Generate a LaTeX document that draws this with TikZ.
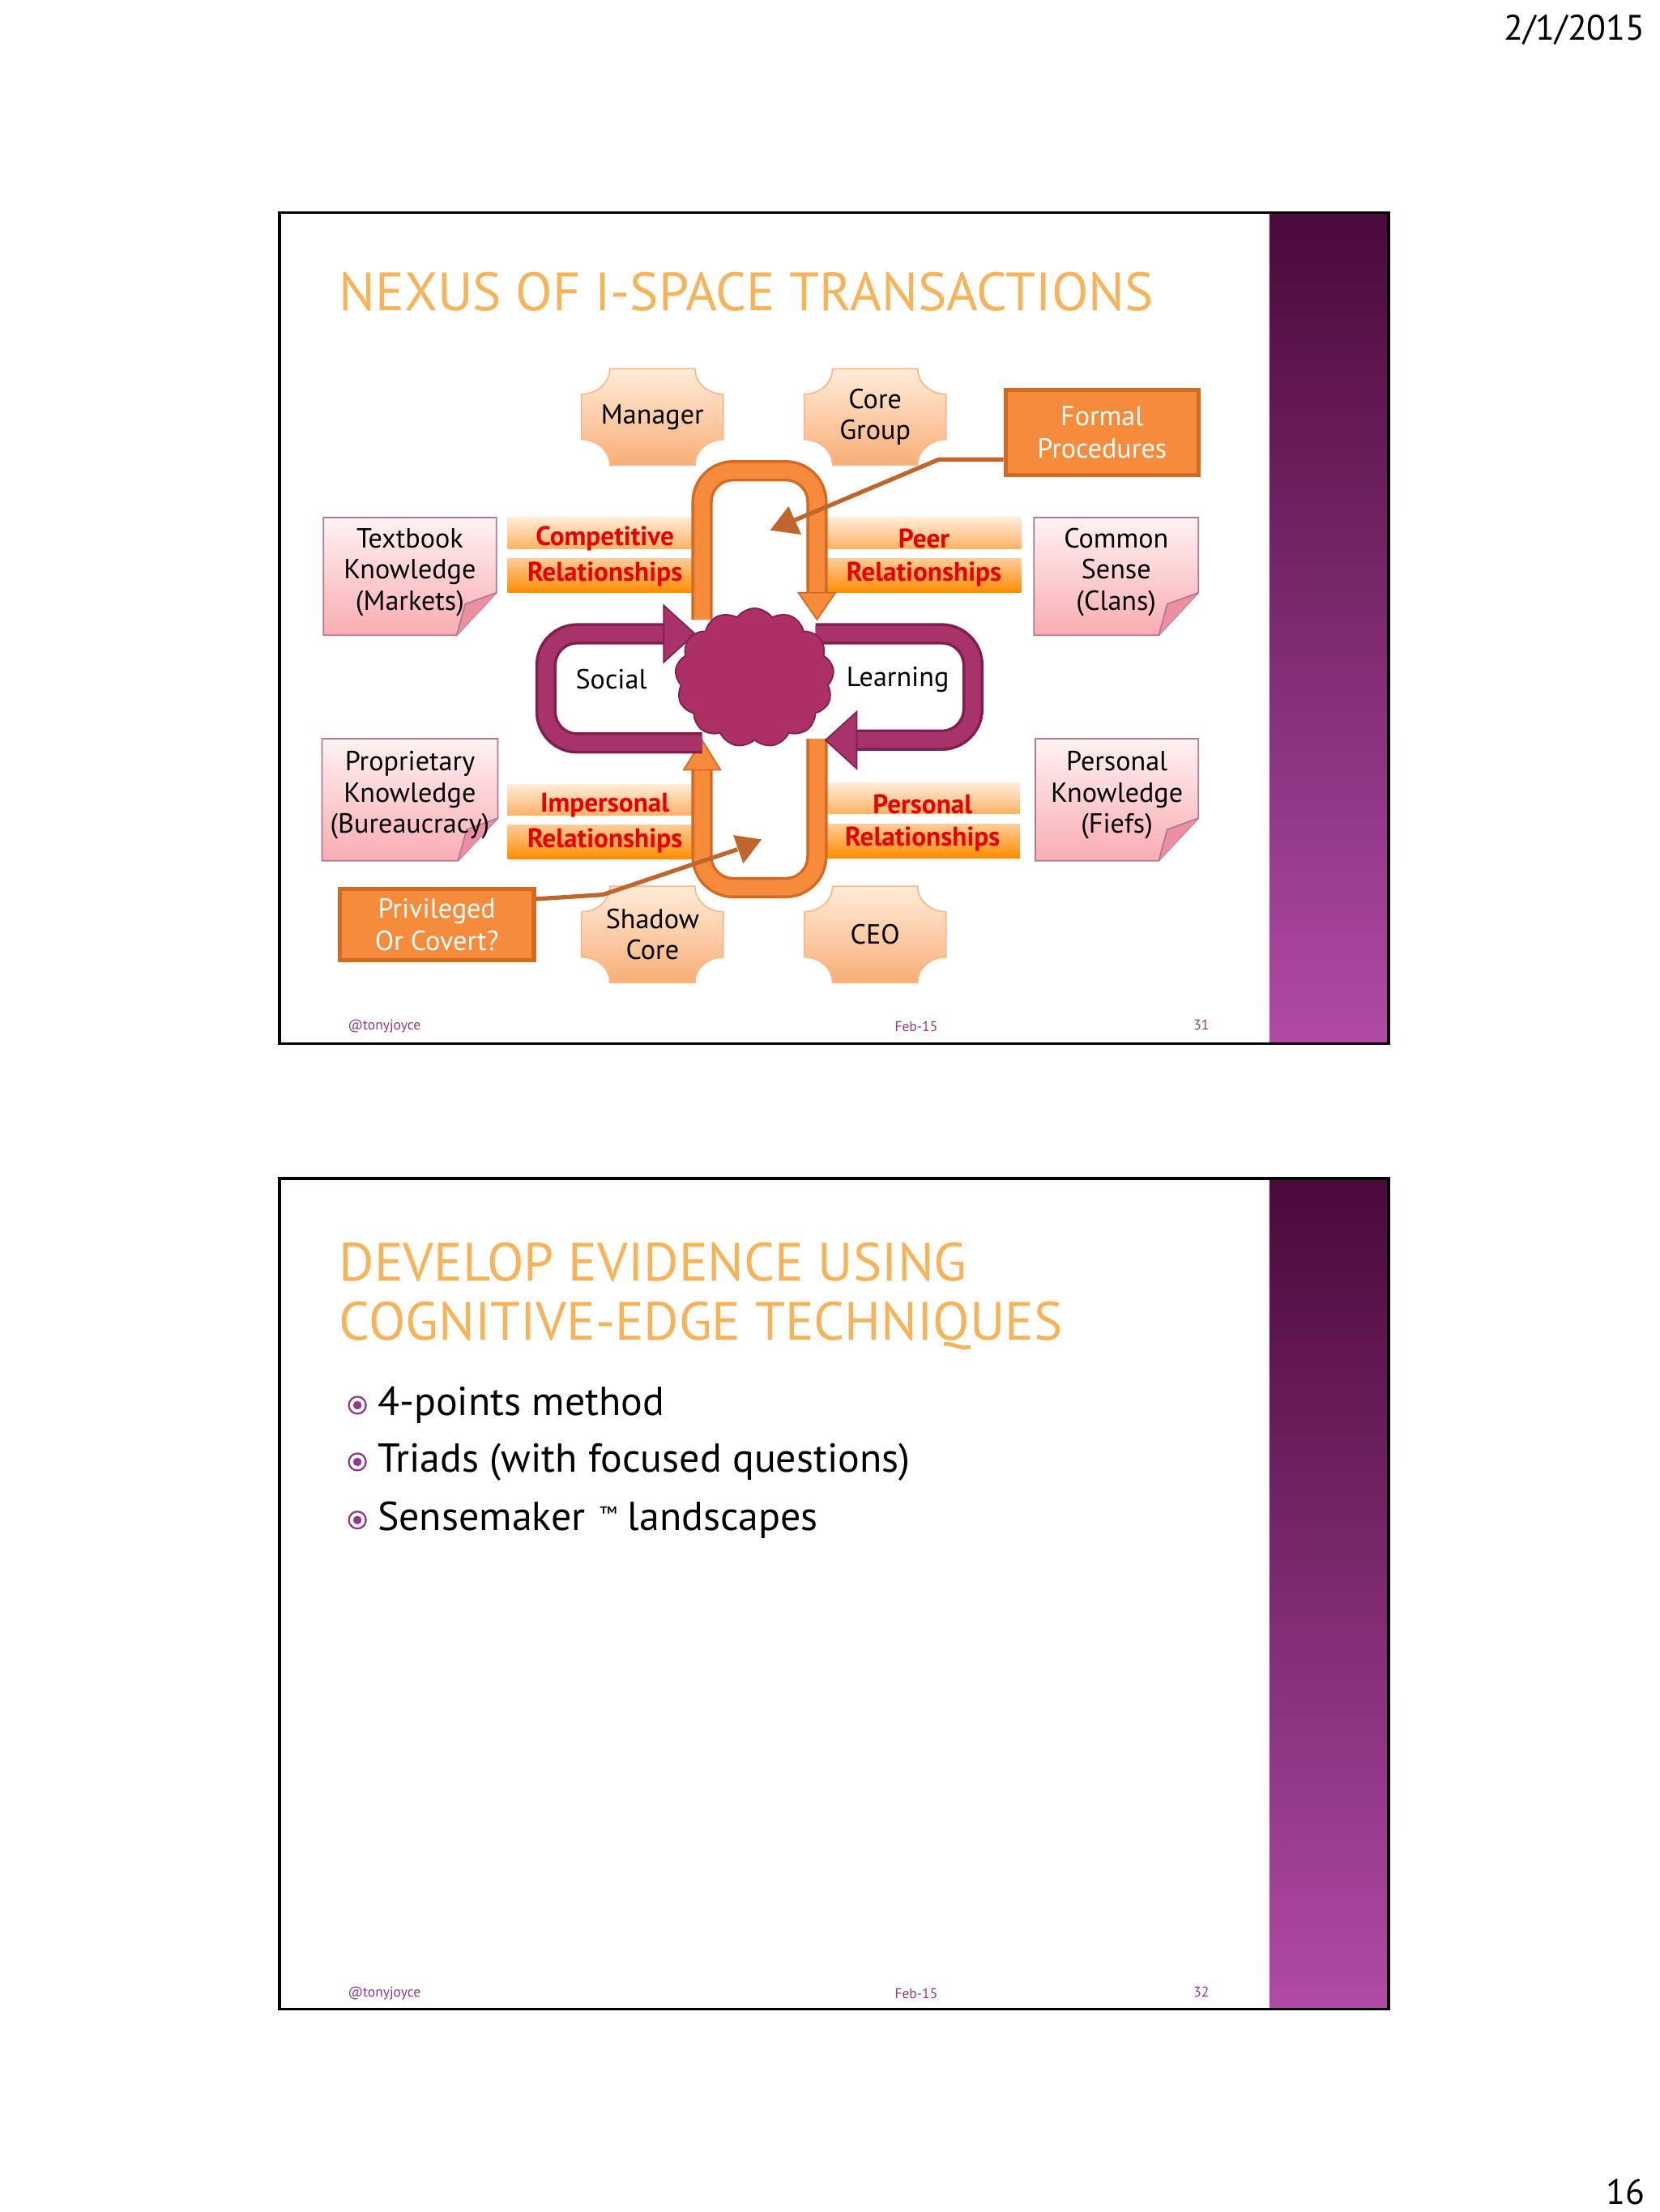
\documentclass[tikz,border=0pt]{standalone}
\usepackage{fontspec}
\setmainfont{PT Sans}
\usetikzlibrary{shapes.symbols,shadings}
\definecolor{orA}{HTML}{F68B3C}
\definecolor{orD}{HTML}{D46A22}
\definecolor{brn}{HTML}{C0652B}
\definecolor{pur}{HTML}{A8336A}
\definecolor{purD}{HTML}{7E1F4C}
\definecolor{foot}{HTML}{8E3A8A}
\definecolor{rl}{HTML}{E80000}
\definecolor{bandT}{HTML}{4A0A3A}
\definecolor{bandB}{HTML}{B04AA6}
\definecolor{ttl}{HTML}{F7B35A}
\tikzset{
 plq/.style={draw=orA!60,line width=1pt,top color=orange!15,bottom color=orA!70},
 note/.style={draw=purD!60,line width=1pt,top color=pink!20,bottom color=pink!90!purple},
 txt/.style={font=\fontsize{19.5}{22}\selectfont,align=center,inner sep=0},
 rel/.style={font=\bfseries\fontsize{19}{20}\selectfont,text=rl,inner sep=0},
 box/.style={draw=orD,line width=3pt,fill=orA,text=white,font=\fontsize{19.5}{23}\selectfont,align=center},
 oband/.style={line width=15pt,draw=orD},
 iband/.style={line width=11pt,draw=orA},
 pband/.style={line width=15pt,draw=purD},
 piband/.style={line width=11pt,draw=pur},
 bar1/.style={top color=orange!15,bottom color=orange!60,draw=none},
 bar2/.style={top color=orange!40,bottom color=orange!90!yellow,draw=none},
 foottxt/.style={text=foot,font=\fontsize{10}{12}\selectfont},
 ttlst/.style={anchor=west,inner sep=0,text=ttl,font=\fontsize{38}{42}\selectfont}
}
\newcommand{\plaque}[4]{% cx cy name text
 \path[plq] (#1-30,#2-34) -- (#1+30,#2-34) .. controls (#1+30,#2-24) and (#1+39,#2-16) .. (#1+50,#2-16)
  -- (#1+50,#2+16) .. controls (#1+39,#2+16) and (#1+30,#2+24) .. (#1+30,#2+34)
  -- (#1-30,#2+34) .. controls (#1-30,#2+24) and (#1-39,#2+16) .. (#1-50,#2+16)
  -- (#1-50,#2-16) .. controls (#1-39,#2-16) and (#1-30,#2-24) .. (#1-30,#2-34) -- cycle;
 \node[txt] (#3) at (#1,#2) {#4};}
\newcommand{\pnote}[6]{% x0 y0 x1 y1 name text
 \path[note] (#1,#2) -- (#3,#2) -- (#3,#4-30) -- (#3-28,#4) -- (#1,#4) -- cycle;
 \fill[pink!60!purple!80] (#3,#4-30) -- (#3-28,#4) -- (#3-22,#4-22) -- cycle;
 \draw[purD!60,line width=1pt] (#3,#4-30) -- (#3-22,#4-22) -- (#3-28,#4);
 \node[txt] (#5) at ({(#1+#3)/2},{(#2+#4)/2-3}) {#6};}
\begin{document}
\begin{tikzpicture}[x=1pt,y=-1pt]
\useasboundingbox (0,0) rectangle (1170,1560);
\fill[white] (0,0) rectangle (1170,1560);
\node[anchor=north east,font=\fontsize{25}{28}\selectfont,inner sep=0] (date) at (1160,10) {2/1/2015};
\node[anchor=south east,font=\fontsize{25}{28}\selectfont,inner sep=0] (pg) at (1160,1555) {16};
% ---- slide 1
\shade[top color=bandT,bottom color=bandB] (895,150) rectangle (979,736);
\draw[line width=2pt] (197,150) rectangle (979,736);
\node[ttlst] (t1) at (239,206) {NEXUS OF I-SPACE TRANSACTIONS};
\plaque{460}{294}{mgr}{Manager}
\plaque{617}{294}{cg}{Core\\Group}
\plaque{460}{659}{sc}{Shadow\\Core}
\plaque{617}{659}{ceo}{CEO}
\node[box,minimum width=136pt,minimum height=60pt] (fp) at (777,305) {Formal\\Procedures};
\node[box,minimum width=137pt,minimum height=50pt] (pc) at (308,652) {Privileged\\Or Covert?};
\pnote{228}{365}{350}{448}{tb}{Textbook\\Knowledge\\(Markets)}
\pnote{729}{365}{845}{448}{cs}{Common\\Sense\\(Clans)}
\pnote{227}{521}{351}{607}{pk}{Proprietary\\Knowledge\\(Bureaucracy)}
\pnote{730}{521}{845}{607}{fk}{Personal\\Knowledge\\(Fiefs)}
% relationship bars
\foreach \x/\y/\a/\n in {358/365/Competitive/c,583/365/Peer/p,358/553/Impersonal/i,582/552/Personal/q}{
 \path[bar1] (\x,\y) rectangle (\x+137,\y+22);
 \path[bar2] (\x,\y+29) rectangle (\x+137,\y+53);
 \node[rel] (\n1) at (\x+68.5,\y+15) {\a};
 \node[rel] (\n2) at (\x+68.5,\y+40) {Relationships};}
% orange U shapes
\draw[oband,rounded corners=22] (495,437) -- (495,332) -- (576,332) -- (576,422);
\draw[iband,rounded corners=22] (495,437) -- (495,332) -- (576,332) -- (576,422);
\draw[orD,fill=orA,line width=1pt] (563,418) -- (589,418) -- (576,437) -- cycle;
\draw[oband,rounded corners=22] (576,521) -- (576,626) -- (495,626) -- (495,540);
\draw[iband,rounded corners=22] (576,521) -- (576,626) -- (495,626) -- (495,540);
\draw[orD,fill=orA,line width=1pt] (482,543) -- (508,543) -- (495,522) -- cycle;
% purple loops
\draw[pband,rounded corners=22] (495,524) -- (385,524) -- (385,447) -- (470,447);
\draw[piband,rounded corners=22] (495,524) -- (385,524) -- (385,447) -- (470,447);
\draw[purD,fill=pur,line width=1pt] (468,427) -- (468,467) -- (490,447) -- cycle;
\draw[pband,rounded corners=22] (575,447) -- (686,447) -- (686,522) -- (603,522);
\draw[piband,rounded corners=22] (575,447) -- (686,447) -- (686,522) -- (603,522);
\draw[purD,fill=pur,line width=1pt] (604,502) -- (604,542) -- (582,522) -- cycle;
% cloud
\node[cloud,cloud puffs=13,cloud puff arc=110,aspect=1.1,minimum width=112pt,minimum height=98pt,fill=pur!95!red,draw=purD,line width=1pt] (cloud) at (532,478) {};
\node[txt] (soc) at (431,479) {Social};
\node[txt] (lrn) at (633,479) {Learning};
% brown arrows
\draw[brn,line width=3pt] (fp.west|-0,324) -- (662,324) -- (560,367);
\fill[brn] (543,374) -- (556,357) -- (565,377) -- cycle;
\draw[brn,line width=3pt] (pc.east|-0,634) -- (425,631) -- (520,599);
\fill[brn] (537,592) -- (517,589) -- (524,609) -- cycle;
\node[foottxt] (f1) at (271,724) {@tonyjoyce};
\node[foottxt] (f2) at (646,724) {Feb-15};
\node[foottxt] (f3) at (847,723) {31};
% ---- slide 2
\shade[top color=bandT,bottom color=bandB] (895,831) rectangle (979,1417);
\draw[line width=2pt] (197,831) rectangle (979,1417);
\node[ttlst] (t2a) at (239,890) {DEVELOP EVIDENCE USING};
\node[ttlst] (t2b) at (239,935) {COGNITIVE-EDGE TECHNIQUES};
\foreach \y/\t/\n in {991/4-points method/b1,1031/Triads (with focused questions)/b2,1072/Sensemaker {\raisebox{0.5ex}{\fontsize{14}{14}\selectfont\,™}} landscapes/b3}{
 \draw[foot,line width=1.3pt] (252,\y) circle (6pt);
 \fill[foot] (252,\y) circle (3pt);
 \node[anchor=west,inner sep=0,font=\fontsize{28.5}{32}\selectfont] (\n) at (266,\y) {\t};}
\node[foottxt] (g1) at (271,1406) {@tonyjoyce};
\node[foottxt] (g2) at (646,1406) {Feb-15};
\node[foottxt] (g3) at (847,1405) {32};
\end{tikzpicture}
\end{document}
